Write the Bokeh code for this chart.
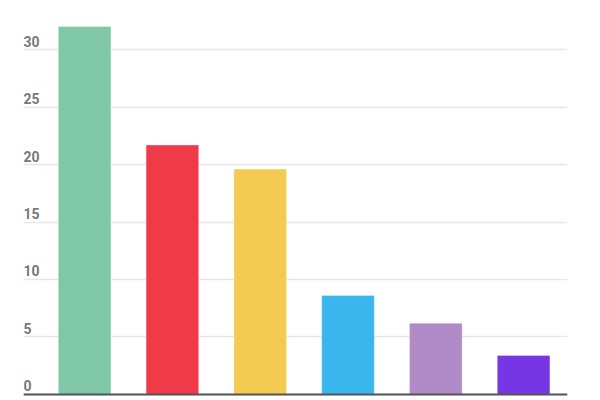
from bokeh.plotting import figure
from bokeh.models import ColumnDataSource, Range1d, FixedTicker, Span
from bokeh.core.properties import value
from bokeh.embed import file_html
from bokeh.resources import INLINE

# Datos
categorias = ["A", "B", "C", "D", "E", "F"]
valores = [32.0, 21.7, 19.6, 8.6, 6.2, 3.4]
colores = ["#7fc7a7", "#f03a48", "#f4cb52", "#3bb6ec", "#b08bc7", "#7736e3"]
ticks = [0, 5, 10, 15, 20, 25, 30]
etiquetas = ["0", "5", "10", "15", "20", "25", "30"]

x_ini = -0.696
y_ini = -0.35

datos = ColumnDataSource(data={
    "x": list(range(len(categorias))),
    "valor": valores,
    "color": colores,
})

p = figure(
    width=592, height=398,
    x_range=Range1d(x_ini, 5.5),
    y_range=Range1d(y_ini, 33.57),
    output_backend="svg",
    toolbar_location=None,
    min_border_left=23, min_border_right=25,
    min_border_top=8, min_border_bottom=0,
)
p.outline_line_color = None
p.xaxis.visible = False
p.yaxis.visible = False
p.xgrid.visible = False
p.ygrid.ticker = FixedTicker(ticks=ticks)
p.ygrid.grid_line_color = "#e6e6e6"
p.ygrid.grid_line_width = 1.5

# Barras
p.vbar(x="x", top="valor", width=0.6, bottom=0, source=datos,
       fill_color="color", line_color="white", line_alpha=0.35, line_width=1)

# Etiquetas del eje y, encima de cada linea
fuente_ticks = ColumnDataSource(data={
    "x": [x_ini] * len(ticks),
    "y": ticks,
    "texto": etiquetas,
})
p.text(x="x", y="y", text="texto", source=fuente_ticks,
       text_font=value("Roboto"), text_font_size="14px", text_font_style="bold",
       text_color="#666666", text_alpha=0.9, text_align="left", text_baseline="bottom",
       y_offset=-3)

# Linea base
p.add_layout(Span(location=0, dimension="width", line_color="#555555", line_width=2))

open("out.html", "w").write(file_html(p, INLINE))
